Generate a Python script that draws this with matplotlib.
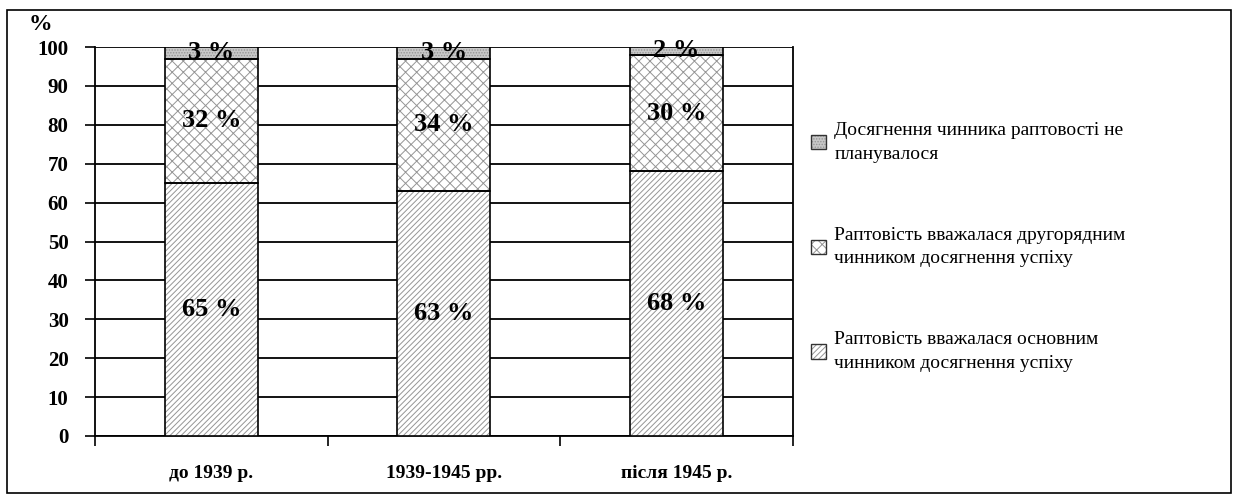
"""
Раптовість у військових операціях
Stacked bar chart with hatched segments
"""

import matplotlib
matplotlib.use("Agg")
import matplotlib.pyplot as plt
from matplotlib.patches import Rectangle, Patch

# ==========================================
# Data
# ==========================================

periods = ["до 1939 р.", "1939-1945 рр.", "після 1945 р."]

main_factor = [65, 63, 68]
secondary_factor = [32, 34, 30]
not_planned = [3, 3, 2]

series_labels = [
    "Досягнення чинника раптовості не\nпланувалося",
    "Раптовість вважалася другорядним\nчинником досягнення успіху",
    "Раптовість вважалася основним\nчинником досягнення успіху",
]

y_ticks = list(range(0, 101, 10))

# ==========================================
# Style
# ==========================================

plt.rcParams["font.family"] = ["Liberation Serif", "DejaVu Serif"]
plt.rcParams["hatch.linewidth"] = 0.7

fig = plt.figure(figsize=(12.38, 4.98), dpi=100)

ax = fig.add_axes([0.0767, 0.1245, 0.5638, 0.7811])

x = list(range(len(periods)))
width = 0.4

segments = [
    (main_factor, "//////", "white"),
    (secondary_factor, "xxx", "white"),
    (not_planned, "......", "#c8c8c8"),
]

handles = []
bottom = [0] * len(periods)
for values, hatch, face in segments:
    # hatch layer in gray, outline layer in black
    ax.bar(
        x, values, width, bottom=bottom,
        color=face, edgecolor="#959595",
        hatch=hatch, linewidth=0, zorder=3
    )
    ax.bar(
        x, values, width, bottom=bottom,
        facecolor="none", edgecolor="black",
        linewidth=1.2, zorder=4
    )
    handles.append((
        Patch(facecolor=face, edgecolor="#959595", hatch=hatch, linewidth=0),
        Patch(facecolor="none", edgecolor="#333333", linewidth=1.0),
    ))
    bottom = [b + v for b, v in zip(bottom, values)]

# ==========================================
# Value labels
# ==========================================

bottom = [0] * len(periods)
for values, _, _ in segments:
    for i, v in enumerate(values):
        ax.text(
            x[i], bottom[i] + v / 2, f"{v} %",
            ha="center", va="center",
            fontsize=19, fontweight="bold", zorder=5
        )
    bottom = [b + v for b, v in zip(bottom, values)]

# ==========================================
# Axes
# ==========================================

ax.set_xlim(-0.5, 2.5)
ax.set_ylim(0, 100)

ax.set_yticks(y_ticks)
ax.set_yticklabels([str(t) for t in y_ticks], fontsize=15, fontweight="bold")

ax.set_xticks(x)
ax.set_xticklabels(periods, fontsize=14, fontweight="bold")
ax.tick_params(axis="x", length=0, pad=21)
ax.set_xticks([-0.5, 0.5, 1.5, 2.5], minor=True)
ax.tick_params(axis="x", which="minor", length=7, width=1.2, direction="out")
ax.tick_params(axis="y", length=7, width=1.2, direction="out", pad=12)

for y in y_ticks:
    ax.axhline(y, color="black", linewidth=1.3, zorder=1)

for side in ["left", "bottom", "right"]:
    ax.spines[side].set_linewidth(1.3)
ax.spines["top"].set_visible(False)

fig.text(0.033, 0.95, "%", fontsize=17, fontweight="bold",
         ha="center", va="center")

# ==========================================
# Legend
# ==========================================

leg = fig.legend(
    handles[::-1], series_labels,
    loc="upper left", bbox_to_anchor=(0.641, 0.79),
    frameon=False, fontsize=14,
    handlelength=0.75, handleheight=0.75,
    handletextpad=0.45, labelspacing=3.3
)
for t in leg.get_texts():
    t.set_linespacing(1.5)

# frame around the whole figure
fig.add_artist(Rectangle(
    (0.0057, 0.01), 0.9886, 0.97,
    transform=fig.transFigure, fill=False,
    edgecolor="black", linewidth=1.2
))

plt.savefig("out.png", dpi=100)
